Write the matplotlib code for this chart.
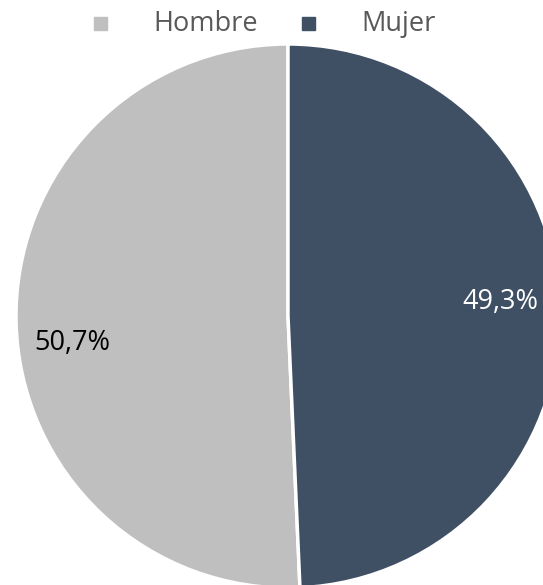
import matplotlib.pyplot as plt

# datos
categorias = ['Hombre', 'Mujer']
valores = [50.7, 49.3]
etiquetas = ['50,7%', '49,3%']
colores = ['#BFBFBF', '#3F5064']
color_texto = ['black', 'white']

plt.rcParams['font.family'] = ['Open Sans', 'DejaVu Sans']

fig = plt.figure(figsize=(5.43, 5.85), dpi=100)
ax = fig.add_axes([0, 0, 1, 1])

cx, cy, r = 288, 585 - 316, 272
wedges, _ = ax.pie(valores, colors=colores, startangle=90, counterclock=True,
                   center=(cx, cy), radius=r, frame=True,
                   wedgeprops=dict(edgecolor='white', linewidth=2.5))
ax.set_xlim(0, 543)
ax.set_ylim(0, 585)
ax.set_aspect('equal')
ax.axis('off')

# etiquetas de porcentaje
pos_etiq = [(72, 585 - 343), (500, 585 - 302)]
for (x, y), txt, c in zip(pos_etiq, etiquetas, color_texto):
    ax.text(x, y, txt, ha='center', va='center', fontsize=19.5, color=c)

# leyenda
leg_x = [100, 308]
for x, cat, col in zip(leg_x, categorias, colores):
    ax.add_patch(plt.Rectangle((x - 6.5, 585 - 23 - 6.5), 13, 13, color=col))
    ax.text(x + 53, 585 - 24, cat, ha='left', va='center', fontsize=19.5, color='#595959')

fig.savefig('out.png', dpi=100)
